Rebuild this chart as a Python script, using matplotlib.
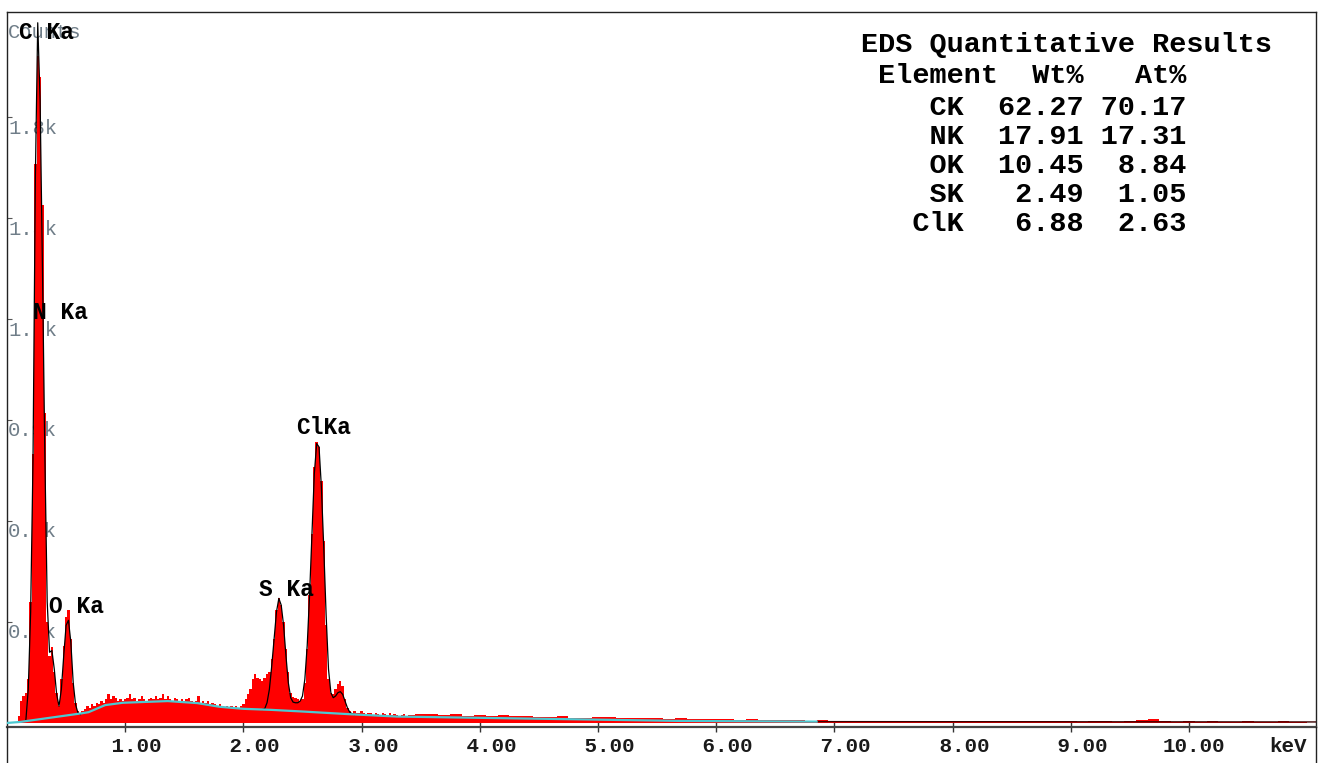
import numpy as np
import matplotlib.pyplot as plt
from matplotlib.lines import Line2D
from matplotlib.transforms import offset_copy

# spectrum counts (k) on a 0.02 keV grid, 0.00 .. 3.40 keV
counts_lo = [
    0, 0, 0, 0, 0, 0.02, 0.065, 0.08, 0.09, 0.13,
    0.36, 0.80, 1.66, 1.98, 1.92, 1.54, 0.92, 0.30, 0.20, 0.225,
    0.15, 0.09, 0.05, 0.13, 0.23, 0.315, 0.336, 0.25, 0.12, 0.06,
    0.035, 0.03, 0.035, 0.04, 0.05, 0.045, 0.055, 0.05, 0.06, 0.055,
    0.065, 0.06, 0.07, 0.085, 0.07, 0.08, 0.075, 0.065, 0.07, 0.065,
    0.07, 0.075, 0.085, 0.07, 0.075, 0.065, 0.07, 0.08, 0.07, 0.065,
    0.07, 0.075, 0.07, 0.08, 0.07, 0.075, 0.085, 0.07, 0.08, 0.07,
    0.065, 0.075, 0.07, 0.065, 0.07, 0.065, 0.07, 0.075, 0.065, 0.06,
    0.065, 0.08, 0.06, 0.065, 0.06, 0.065, 0.055, 0.06, 0.055, 0.05,
    0.055, 0.05, 0.045, 0.05, 0.045, 0.05, 0.045, 0.05, 0.045, 0.05,
    0.055, 0.07, 0.085, 0.10, 0.13, 0.145, 0.135, 0.13, 0.125, 0.135,
    0.145, 0.15, 0.19, 0.25, 0.335, 0.371, 0.35, 0.30, 0.22, 0.15,
    0.09, 0.078, 0.075, 0.072, 0.065, 0.07, 0.12, 0.22, 0.38, 0.56,
    0.76, 0.835, 0.82, 0.72, 0.54, 0.29, 0.13, 0.09, 0.085, 0.10,
    0.115, 0.125, 0.11, 0.07, 0.045, 0.035, 0.03, 0.035, 0.03, 0.03,
    0.035, 0.03, 0.025, 0.03, 0.03, 0.025, 0.03, 0.028, 0.025, 0.03,
    0.028, 0.025, 0.03, 0.025, 0.028, 0.025, 0.022, 0.025, 0.028, 0.022,
    0.025,
]

# high-energy tail on a 0.1 keV grid, 3.5 .. 11.0 keV
counts_hi = [
    0.026, 0.028, 0.023, 0.026, 0.022, 0.024, 0.021, 0.023, 0.020, 0.022,
    0.019, 0.017, 0.020, 0.016, 0.015, 0.017, 0.019, 0.014, 0.016, 0.014,
    0.016, 0.013, 0.015, 0.012, 0.013, 0.011, 0.012, 0.010, 0.011, 0.009,
    0.010, 0.008, 0.009, 0.007, 0.008, 0.006, 0.007, 0.006, 0.007, 0.005,
    0.006, 0.006, 0.005, 0.006, 0.005, 0.006, 0.005, 0.006, 0.005, 0.005,
    0.006, 0.005, 0.005, 0.006, 0.005, 0.005, 0.004, 0.005, 0.005, 0.004,
    0.005, 0.009, 0.011, 0.005, 0.004, 0.005, 0.004, 0.005, 0.004, 0.004,
    0.005, 0.004, 0.004, 0.005, 0.004, 0.004,
]

# fitted peak envelopes (k)
fit_lo_e = [0.16 + 0.02 * i for i in range(24)]
fit_lo = [0.01, 0.10, 0.33, 0.78, 1.62, 2.08, 1.85, 1.35, 0.80, 0.36,
          0.21, 0.215, 0.16, 0.085, 0.05, 0.10, 0.20, 0.29, 0.305, 0.24,
          0.12, 0.055, 0.03, 0.025]
fit_hi_e = [2.16 + 0.02 * i for i in range(40)]
fit_hi = [0.040, 0.042, 0.06, 0.10, 0.17, 0.25, 0.33, 0.37, 0.35, 0.29,
          0.20, 0.12, 0.075, 0.062, 0.06, 0.06, 0.065, 0.08, 0.13, 0.23,
          0.38, 0.56, 0.74, 0.83, 0.82, 0.70, 0.52, 0.32, 0.16, 0.09,
          0.075, 0.08, 0.09, 0.093, 0.085, 0.065, 0.045, 0.032, 0.027, 0.025]

# continuum background
bg_e = [0.0, 0.11, 0.62, 0.69, 0.83, 0.98, 1.36, 1.61, 1.80, 2.00,
        2.23, 2.50, 2.90, 3.30, 4.60, 5.70, 6.85]
bg = [0.0, 0.003, 0.028, 0.032, 0.053, 0.06, 0.065, 0.059, 0.048, 0.042,
      0.039, 0.034, 0.026, 0.019, 0.012, 0.006, 0.004]
bg_tail_e = [6.85, 11.08]
bg_tail = [0.004, 0.003]

peak_names = ["C Ka", "N Ka", "O Ka", "S Ka", "ClKa"]
peak_energy = [0.277, 0.392, 0.525, 2.307, 2.622]
label_y = [2.05, 1.22, 0.347, 0.395, 0.879]

elements = ["CK", "NK", "OK", "SK", "ClK"]
wt_pct = [62.27, 17.91, 10.45, 2.49, 6.88]
at_pct = [70.17, 17.31, 8.84, 1.05, 2.63]

yticks = [0.3, 0.6, 0.9, 1.2, 1.5, 1.8]
xticks = list(range(1, 11))

energy = np.concatenate([np.round(np.arange(len(counts_lo)) * 0.02, 2),
                         np.round(3.5 + np.arange(len(counts_hi)) * 0.1, 2)])
counts = np.array(counts_lo + counts_hi)

W, H = 1325, 763
mono = ["Liberation Mono", "DejaVu Sans Mono"]

fig = plt.figure(figsize=(W / 100, H / 100), dpi=100)
ax = fig.add_axes([7 / W, 36 / H, 1309 / W, 715 / H])
ax.set_xlim(0.0, 11.075)
ax.set_ylim(-0.012, 2.112)

ax.fill_between(energy, counts, step="mid", color="#ff0000", lw=0, zorder=2)
ax.plot(fit_lo_e, fit_lo, color="black", lw=0.9, zorder=3)
ax.plot(fit_hi_e, fit_hi, color="black", lw=0.9, zorder=3)
ax.plot(bg_tail_e, bg_tail, color="#3a0000", lw=1.0, zorder=3)
ax.plot(bg_e, bg, color="#4cc8d0", lw=1.6, zorder=4)

for name, e, y in zip(peak_names, peak_energy, label_y):
    ax.text(e + 0.06, y, name, ha="center", va="center", fontsize=16.5,
            fontweight="bold", family=mono, color="black", zorder=6)

# frame
for side in ["left", "top", "right"]:
    ax.spines[side].set_color("#222222")
    ax.spines[side].set_linewidth(1.0)
ax.spines["bottom"].set_color("#444444")
ax.spines["bottom"].set_linewidth(1.6)
for xf in [7 / W, 1316 / W]:
    fig.add_artist(Line2D([xf, xf], [0, 36 / H], transform=fig.transFigure,
                          color="#222222", lw=1.0))

ax.set_xticks(xticks)
ax.set_yticks(yticks)
ax.tick_params(axis="x", direction="inout", length=6.5, width=1.0,
               color="#333333", labelbottom=False)
ax.tick_params(axis="y", direction="in", length=3.6, width=0.8,
               color="#555555", labelleft=False)

ylab_tr = offset_copy(ax.get_yaxis_transform(), fig, x=1, y=-11, units="dots")
for v in yticks:
    ax.text(0, v, f"{v:.1f}k", transform=ylab_tr, ha="left", va="center",
            fontsize=14.8, family=mono, color="#6f7d88", zorder=1)
ax.text(8 / W, 1 - 32 / H, "Counts", transform=fig.transFigure, ha="left",
        va="center", fontsize=14.8, family=mono, color="#6f7d88", zorder=1)

xlab_tr = offset_copy(ax.get_xaxis_transform(), fig, x=-26, y=-20, units="dots")
for v in xticks:
    ax.text(v, 0, f"{v:5.2f}", transform=xlab_tr, ha="left", va="center",
            fontsize=15, fontweight="bold", family=mono, color="#1a1a1a")
fig.text(1269 / W, 1 - 747 / H, "keV", ha="left", va="center", fontsize=15,
         fontweight="bold", family=mono, color="#1a1a1a")

# quantitative results table
lines = ["EDS Quantitative Results", f"{'Element':>8}{'Wt%':>5}{'At%':>6}"]
lines += [f"{el:>6}{w:>7.2f}{a:>6.2f}" for el, w, a in zip(elements, wt_pct, at_pct)]
line_y = [45, 76] + [108 + 29 * i for i in range(len(elements))]
for txt, y in zip(lines, line_y):
    fig.text(861 / W, 1 - y / H, txt, ha="left", va="center", fontsize=20.5,
             fontweight="bold", family=mono, color="black")

fig.savefig("out.png", dpi=100)
